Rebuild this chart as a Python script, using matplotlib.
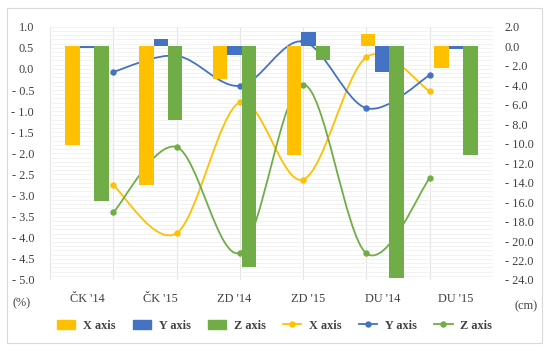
import matplotlib
matplotlib.use("Agg")
import numpy as np
import matplotlib.pyplot as plt
from matplotlib.path import Path
from matplotlib.patches import PathPatch, Rectangle, Patch
from matplotlib.lines import Line2D
from matplotlib.ticker import FuncFormatter, MultipleLocator

plt.rcParams['font.family'] = ['Liberation Serif', 'DejaVu Serif']

categories = ["ČK '14", "ČK '15", "ZD '14", "ZD '15", "DU '14", "DU '15"]

# bars in cm (right axis)
x_cm = [-10.1, -14.3, -3.4, -11.2, 1.3, -2.2]
y_cm = [-0.15, 0.7, -0.95, 1.5, -2.6, -0.3]
z_cm = [-15.9, -7.6, -22.7, -1.4, -23.8, -11.2]

# lines in % (left axis)
x_pct = [-2.76, -3.89, -0.79, -2.62, 0.28, -0.53]
y_pct = [-0.07, 0.31, -0.40, 0.65, -0.93, -0.15]
z_pct = [-3.40, -1.85, -4.35, -0.37, -4.37, -2.59]

YELLOW = '#FFC000'
BLUE = '#4472C4'
GREEN = '#70AD47'
FS = 8.8


def smooth_path(xs, ys):
    # excel-like smoothed line: bezier segments through the points
    pts = np.column_stack([xs, ys])
    n = len(pts)
    verts = [pts[0]]
    codes = [Path.MOVETO]
    for i in range(n - 1):
        p0 = pts[max(i - 1, 0)]
        p1 = pts[i]
        p2 = pts[i + 1]
        p3 = pts[min(i + 2, n - 1)]
        c1 = p1 + (p2 - p0) / 6.0
        c2 = p2 - (p3 - p1) / 6.0
        verts += [c1, c2, p2]
        codes += [Path.CURVE4] * 3
    return Path(verts, codes)


fig = plt.figure(figsize=(5.5, 3.51), dpi=100)
ax = fig.add_axes([50 / 550, 71 / 351, 443 / 550, 253.3 / 351])
ax2 = ax.twinx()

n = len(categories)
idx = np.arange(n)
# line points sit on the 7-slot grid of the secondary category axis
line_x = -0.5 + 6.0 * (idx + 1) / 7.0

ax.set_xlim(-0.5, n - 0.5)
ax.set_ylim(-5, 1)
ax2.set_ylim(-24, 2)

# grid
ax.yaxis.set_major_locator(MultipleLocator(0.5))
ax.yaxis.set_minor_locator(MultipleLocator(0.1))
ax.grid(axis='y', which='both', color='#f0f0f0', lw=0.6)
for k in range(8):
    ax.axvline(-0.5 + 6.0 * k / 7.0, color='#e4e4e4', lw=0.8, zorder=0.5)
ax.set_axisbelow(True)

# lines
for vals, c in [(x_pct, YELLOW), (y_pct, BLUE), (z_pct, GREEN)]:
    ax.add_patch(PathPatch(smooth_path(line_x, vals), fill=False,
                           edgecolor=c, lw=1.3, zorder=3))
    ax.plot(line_x, vals, ls='none', marker='o', ms=3.6, color=c, zorder=4)

# bars
w = 0.195
ax2.bar(idx - w, x_cm, w, color=YELLOW, zorder=3)
ax2.bar(idx, y_cm, w, color=BLUE, zorder=3)
ax2.bar(idx + w, z_cm, w, color=GREEN, zorder=3)


def fmt(v, _):
    if v < -1e-9:
        return f"- {abs(v):.1f}"
    return f"{abs(v):.1f}"


ax.yaxis.set_major_formatter(FuncFormatter(fmt))
ax2.yaxis.set_major_locator(MultipleLocator(2))
ax2.yaxis.set_major_formatter(FuncFormatter(fmt))

ax.set_xticks(idx)
ax.set_xticklabels(categories)
ax.tick_params(axis='x', length=0, pad=9.5, labelsize=FS, colors='#404040')
ax.tick_params(axis='y', which='both', length=0, pad=11.5, labelsize=FS, colors='#404040')
ax2.tick_params(axis='y', length=0, pad=8.5, labelsize=FS, colors='#404040')
for a in (ax, ax2):
    for s in a.spines.values():
        s.set_visible(False)

fig.text(22 / 550, 1 - 303 / 351, '(%)', ha='center', va='center', fontsize=FS, color='#404040')
fig.text(526 / 550, 1 - 306 / 351, '(cm)', ha='center', va='center', fontsize=FS, color='#404040')

handles = [
    Patch(color=YELLOW), Patch(color=BLUE), Patch(color=GREEN),
    Line2D([], [], color=YELLOW, lw=1.3, marker='o', ms=3.6),
    Line2D([], [], color=BLUE, lw=1.3, marker='o', ms=3.6),
    Line2D([], [], color=GREEN, lw=1.3, marker='o', ms=3.6),
]
labels = ['X axis', 'Y axis', 'Z axis', 'X axis', 'Y axis', 'Z axis']
fig.legend(handles, labels, ncol=6, loc='center', bbox_to_anchor=(274.5 / 550, 1 - 325.7 / 351),
           frameon=False, handlelength=1.5, handletextpad=0.65, columnspacing=1.4,
           prop={'size': FS, 'weight': 'bold'}, labelcolor='#404040')

fig.add_artist(Rectangle((7 / 550, 8 / 351), 535 / 550, 335 / 351, transform=fig.transFigure,
                         fill=False, edgecolor='#d9d9d9', lw=0.8))

fig.savefig('out.png', dpi=100)
